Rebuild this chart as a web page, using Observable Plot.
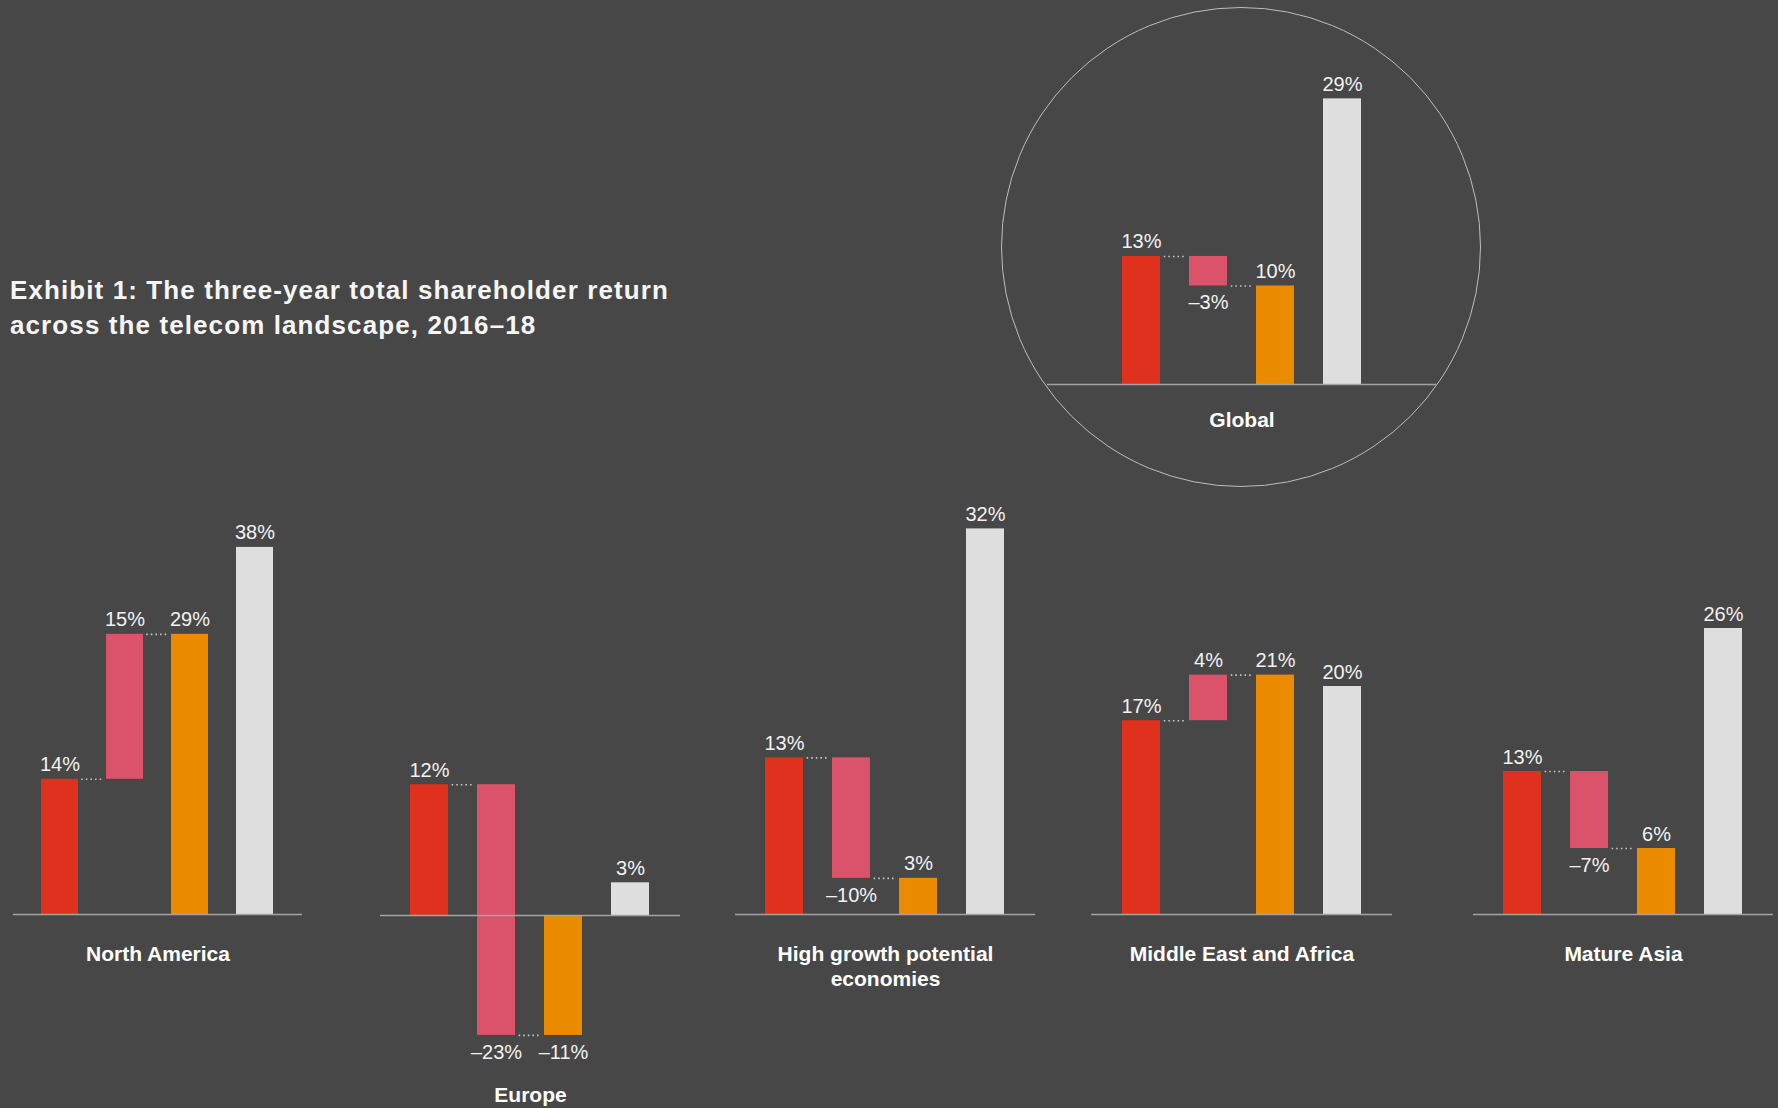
<!DOCTYPE html>
<html>
<head>
<meta charset="utf-8">
<script src="https://cdn.jsdelivr.net/npm/d3@7"></script>
<script src="https://cdn.jsdelivr.net/npm/@observablehq/plot@0.6"></script>
<style>
  html, body { margin: 0; padding: 0; background: #474747; }
  #root { position: relative; width: 1778px; height: 1108px; overflow: hidden; background: #474747; font-family: "Liberation Sans", Arial, sans-serif; }
  #title { position: absolute; left: 10px; top: 273px; font-size: 26px; line-height: 35px; font-weight: bold; color: #f6f6f6; letter-spacing: 1.1px; white-space: nowrap; }
  #ring { position: absolute; left: 1001px; top: 7px; width: 480px; height: 480px; border: 1.5px solid #bdbdbd; border-radius: 50%; box-sizing: border-box; }
  .panel { position: absolute; }
  .panel svg { overflow: visible; }
</style>
</head>
<body>
<div id="root">
  <div id="ring"></div>
  <div id="title">Exhibit 1: The three-year total shareholder return<br>across the telecom landscape, 2016–18</div>
</div>
<script>
// ---- data ----
const regions = ["North America", "Europe", "High growth potential economies", "Middle East and Africa", "Mature Asia", "Global"];
const regionLabels = ["North America", "Europe", "High growth potential\neconomies", "Middle East and Africa", "Mature Asia", "Global"];
const steps = ["Start", "Change", "Subtotal", "Total"];
const startValues = [14, 12, 13, 17, 13, 13];
const changeValues = [15, -23, -10, 4, -7, -3];
const subtotalValues = [29, -11, 3, 21, 6, 10];
const totalValues = [38, 3, 32, 20, 26, 29];
const stepColors = ["#e0301e", "#db536a", "#eb8c00", "#dedede"];

// ---- layout (page pixels) ----
const panels = [
  {left: 13,   top: 470, width: 289, height: 638, zero: 914, k: 9.66,  band: [13, 302],    catDy: 28},
  {left: 380,  top: 470, width: 300, height: 638, zero: 915, k: 10.9,  band: [380, 680],   catDy: 28},
  {left: 735,  top: 470, width: 300, height: 638, zero: 914, k: 12.05, band: [735, 1035],  catDy: 28},
  {left: 1091, top: 470, width: 301, height: 638, zero: 914, k: 11.4,  band: [1091, 1392], catDy: 28},
  {left: 1473, top: 470, width: 300, height: 638, zero: 914, k: 11.0,  band: [1473, 1773], catDy: 28},
  {left: 1047, top: 40,  width: 389, height: 410, zero: 384, k: 9.85,  band: [1091, 1392], catDy: 24}
];
const PAD = 0.43;
const fmt = v => (v < 0 ? "\u2013" : "") + Math.abs(v) + "%";
const font = "Liberation Sans, Arial, sans-serif";

const root = document.getElementById("root");

regions.forEach((region, i) => {
  const L = panels[i];
  const vals = [startValues[i], changeValues[i], subtotalValues[i], totalValues[i]];
  const y1s = [0, startValues[i], 0, 0];
  const y2s = [startValues[i], subtotalValues[i], subtotalValues[i], totalValues[i]];
  const rows = steps.map((s, j) => ({step: s, value: vals[j], y1: y1s[j], y2: y2s[j]}));
  const links = [
    {from: steps[0], to: steps[1], y: startValues[i]},
    {from: steps[1], to: steps[2], y: subtotalValues[i]}
  ];
  const minEnd = Math.min(0, ...y1s, ...y2s);
  const cat = [{label: regionLabels[i], y: minEnd}];
  const catDy = minEnd < 0 ? L.catDy + 20 : L.catDy;

  const xRange = [L.band[0] - L.left, L.band[1] - L.left];
  const bw = d3.scaleBand().domain(steps).range(xRange).padding(PAD).bandwidth();
  const z = L.zero - L.top;
  const lo = -30, hi = 45;

  const chart = Plot.plot({
    width: L.width,
    height: L.height,
    marginLeft: 0, marginRight: 0, marginTop: 0, marginBottom: 0,
    style: {background: "transparent", fontFamily: font, overflow: "visible"},
    x: {type: "band", domain: steps, range: xRange, padding: PAD, axis: null},
    y: {domain: [lo, hi], range: [z - lo * L.k, z - hi * L.k], axis: null},
    color: {domain: steps, range: stepColors},
    marks: [
      Plot.barY(rows, {x: "step", y1: "y1", y2: "y2", fill: "step"}),
      Plot.ruleY([0], {stroke: "#a2a2a2", strokeWidth: 1.6}),
      Plot.ruleY(links, {x1: "from", x2: "to", y: "y", stroke: "#c4c4c4", strokeWidth: 1.6,
        strokeDasharray: "1.6,3", insetLeft: bw + 3, insetRight: bw + 3}),
      Plot.text(rows.filter(d => d.value >= 0), {x: "step", y: "y2", text: d => fmt(d.value),
        lineAnchor: "bottom", dy: -8, fill: "#f2f2f2", fontSize: 20, fontFamily: font}),
      Plot.text(rows.filter(d => d.value < 0), {x: "step", y: "y2", text: d => fmt(d.value),
        lineAnchor: "top", dy: 9, fill: "#f2f2f2", fontSize: 20, fontFamily: font}),
      Plot.text(cat, {y: "y", text: "label", frameAnchor: "middle", lineAnchor: "top", dy: catDy,
        fill: "#ffffff", fontSize: 21, fontWeight: "bold", lineHeight: 1.22, fontFamily: font})
    ]
  });

  const div = document.createElement("div");
  div.className = "panel";
  div.style.left = L.left + "px";
  div.style.top = L.top + "px";
  div.style.width = L.width + "px";
  div.style.height = L.height + "px";
  div.appendChild(chart);
  root.appendChild(div);
});
</script>
</body>
</html>
